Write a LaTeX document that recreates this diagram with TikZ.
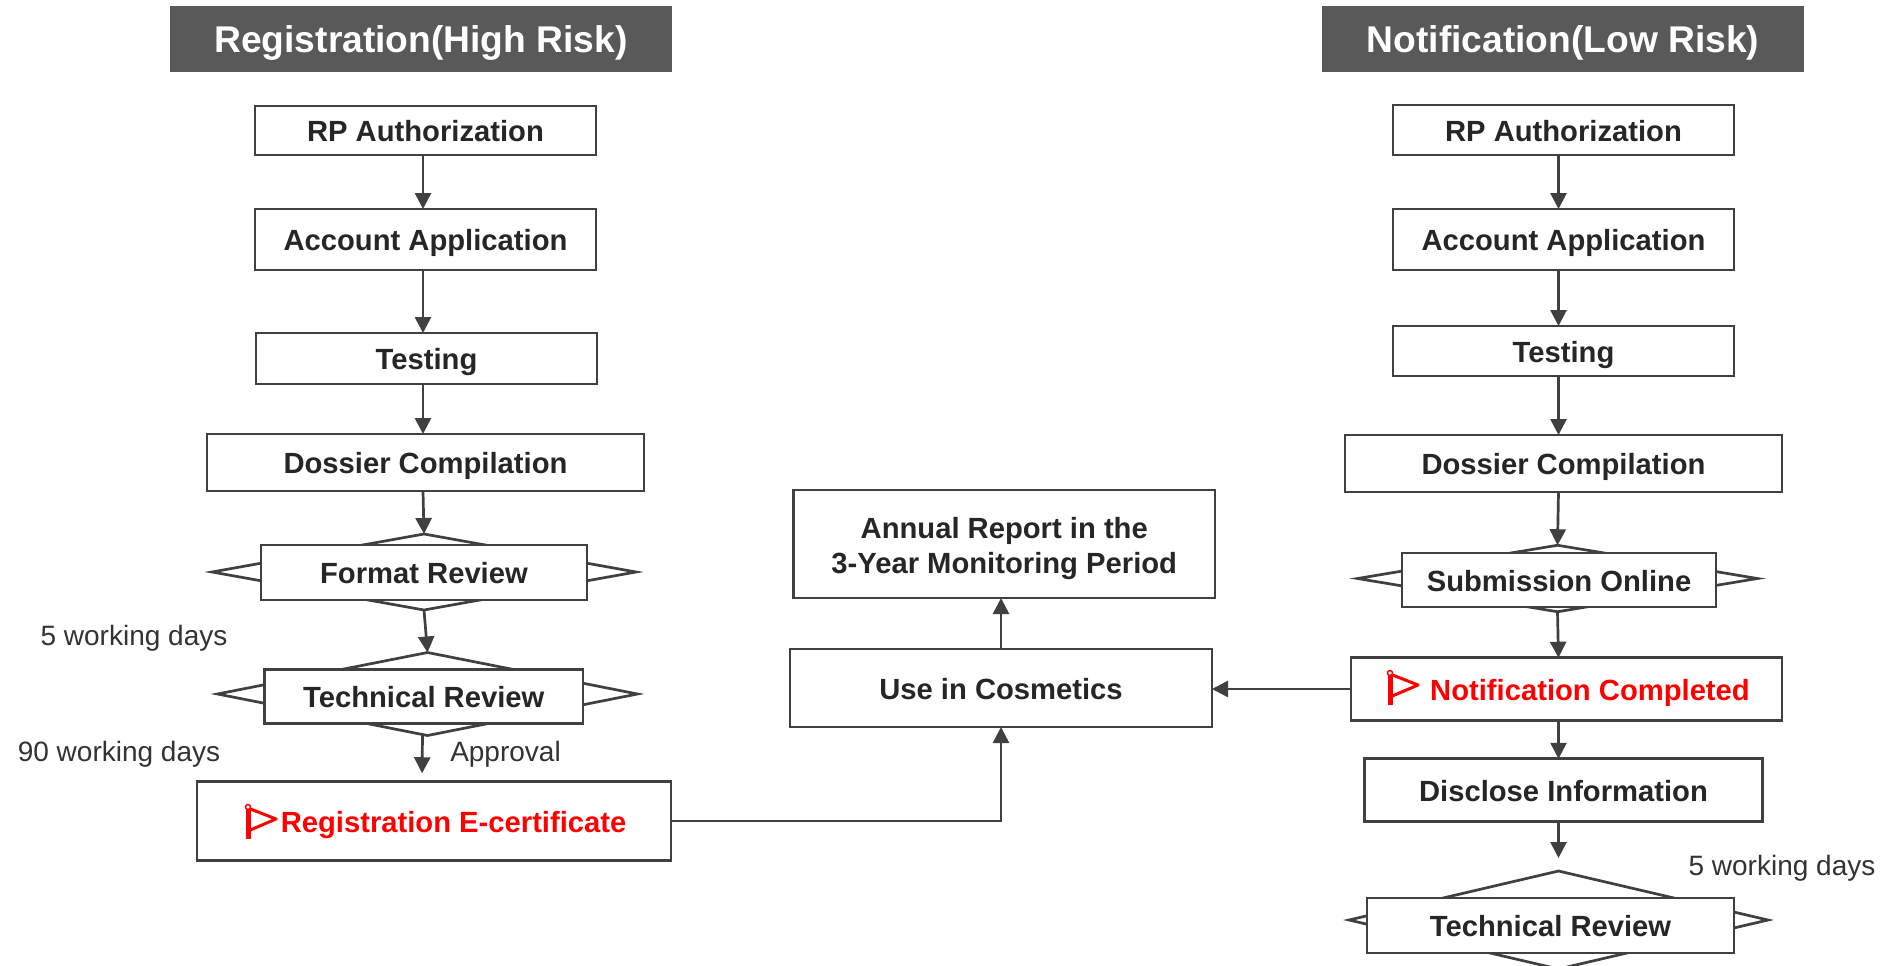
\documentclass[tikz,border=0pt]{standalone}
\usepackage{fontspec}
\setmainfont{Liberation Sans}
\usetikzlibrary{shapes.geometric,arrows.meta}
\definecolor{lineGray}{HTML}{404040}
\definecolor{textDark}{HTML}{262626}
\definecolor{noteGray}{HTML}{333333}
\definecolor{headGray}{HTML}{595959}
\tikzset{
  box/.style 2 args = {rectangle, draw=lineGray, fill=white, line width=2.7pt,
                minimum width=#1, minimum height=#2, inner sep=0pt, outer sep=0pt,
                text=textDark, align=center, text height=22pt, text depth=0pt,
                font=\bfseries\fontsize{29.2}{35}\selectfont},
  head/.style = {rectangle, fill=headGray, text=white, minimum width=#1, minimum height=66pt,
                inner sep=0pt, text height=27pt, text depth=0pt,
                font=\bfseries\fontsize{37.2}{40}\selectfont},
  rhomb/.style 2 args = {diamond, draw=lineGray, fill=white, line width=2.7pt,
                minimum width=#1, minimum height=#2, inner sep=0pt, outer sep=0pt},
  note/.style = {text=noteGray, inner sep=0pt, font=\fontsize{28}{32}\selectfont},
  redtext/.style = {text=red, inner sep=0pt, text height=22pt, text depth=0pt,
                font=\bfseries\fontsize{29.2}{35}\selectfont},
  flow/.style = {draw=lineGray, line width=2.7pt, -{Triangle[length=16pt,width=16pt]}},
  flag/.pic = {
	\draw[red, line width=5pt] (0,2) -- (0,33);
	\draw[red, line width=3pt, line join=round] (0,2) -- (28,13) -- (0,25);
	\draw[red, fill=white, line width=1.5pt] (0,1) circle (2.5pt);
  }
}

\begin{document}
\begin{tikzpicture}[x=1pt,y=-1pt]
	\useasboundingbox[fill=white] (0,0) rectangle (1885,966);

	% Headers
	\node[head=502pt] (headL) at (421,39) {Registration(High Risk)};
	\node[head=482.5pt] (headR) at (1563,39) {Notification(Low Risk)};

	% Left column
	\node[box={341pt}{49pt}] (rpL) at (425.5,130.5) {RP Authorization};
	\node[box={341pt}{61pt}] (accountL) at (425.5,239.5) {Account Application};
	\node[box={341pt}{51pt}] (testingL) at (426.5,358.5) {Testing};
	\node[box={437pt}{57pt}] (dossierL) at (425.5,462.5) {Dossier Compilation};
	\node[rhomb={424pt}{76pt}] (formatD) at (424,572) {};
	\node[box={326pt}{55pt}] (format) at (424,572.5) {Format Review};
	\node[rhomb={420pt}{83pt}] (techD) at (427.5,694) {};
	\node[box={318.5pt}{54.5pt}] (tech) at (423.75,696.5) {Technical Review};
	\node[box={474pt}{79.5pt}] (certif) at (434,821) {};
	\node[redtext] (certifText) at (453.6,821.5) {Registration E-certificate};
	\pic at (248,806) {flag};

	% Middle column
	\node[box={421.5pt}{108pt}, text height=58pt] (annual) at (1004.25,544) {Annual Report in the\\3-Year Monitoring Period};
	\node[box={422pt}{78pt}] (use) at (1001,688) {Use in Cosmetics};

	% Right column
	\node[box={341pt}{50pt}] (rpR) at (1563.5,130) {RP Authorization};
	\node[box={341pt}{61pt}] (accountR) at (1563.5,239.5) {Account Application};
	\node[box={341pt}{50pt}] (testingR) at (1563.5,351) {Testing};
	\node[box={437pt}{57pt}] (dossierR) at (1563.5,463.5) {Dossier Compilation};
	\node[rhomb={400pt}{66.5pt}] (submitD) at (1557.5,578.5) {};
	\node[box={314pt}{54pt}] (submit) at (1559,580) {Submission Online};
	\node[box={431pt}{62.5pt}] (notif) at (1566.5,689) {};
	\node[redtext] (notifText) at (1590,689) {Notification Completed};
	\pic at (1390,672) {flag};
	\node[box={398pt}{62.5pt}] (disclose) at (1563.5,790) {Disclose Information};
	\node[rhomb={419pt}{98pt}] (techRD) at (1558.5,920) {};
	\node[box={367pt}{55pt}] (techR) at (1550.5,925.5) {Technical Review};

	% Notes
	\node[note] (daysA) at (134,638) {5 working days};
	\node[note] (daysB) at (119,754.5) {90 working days};
	\node[note] (approval) at (505.5,754.5) {Approval};
	\node[note] (daysC) at (1782,868) {5 working days};

	% Arrows left
	\draw[flow] ([xshift=-2.5pt]rpL.south) -- ([xshift=-2.5pt]accountL.north);
	\draw[flow] ([xshift=-2.5pt]accountL.south) -- ([xshift=-3.5pt]testingL.north);
	\draw[flow] ([xshift=-3.5pt]testingL.south) -- ([xshift=-2.5pt]dossierL.north);
	\draw[flow] ([xshift=-2.5pt]dossierL.south) -- (formatD.north);
	\draw[flow] (formatD.south) -- (techD.north);
	\draw[flow, shorten >=8pt] ([xshift=-5pt]techD.south) -- ([xshift=-12pt]certif.north);

	% Arrows right
	\draw[flow] ([xshift=-5pt]rpR.south) -- ([xshift=-5pt]accountR.north);
	\draw[flow] ([xshift=-5pt]accountR.south) -- ([xshift=-5pt]testingR.north);
	\draw[flow] ([xshift=-5pt]testingR.south) -- ([xshift=-5pt]dossierR.north);
	\draw[flow] ([xshift=-5pt]dossierR.south) -- (submitD.north);
	\draw[flow] (submitD.south) -- ([xshift=-8pt]notif.north);
	\draw[flow] ([xshift=-8pt]notif.south) -- ([xshift=-5pt]disclose.north);
	\draw[flow, shorten >=13pt] ([xshift=-5pt]disclose.south) -- (techRD.north);

	% Arrows middle
	\draw[flow] (notif.west) -- (notif.west -| use.east);
	\draw[flow] (use.north) -- ([xshift=-3.25pt]annual.south);
	\draw[flow] (certif.east) -| (use.south);
\end{tikzpicture}
\end{document}
